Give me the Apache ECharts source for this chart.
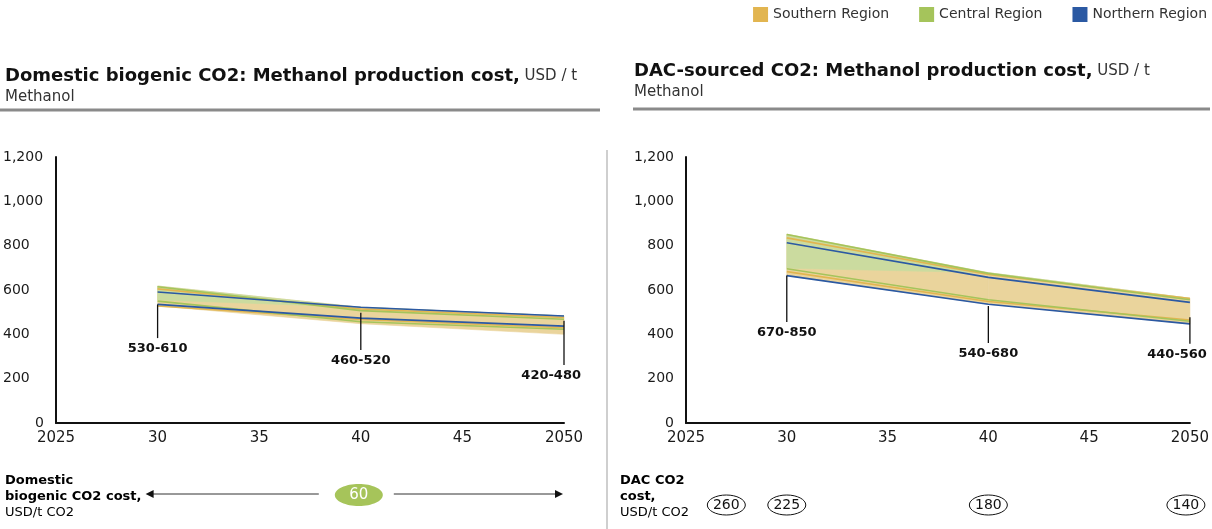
<!DOCTYPE html>
<html><head><meta charset="utf-8">
<script src="https://cdn.jsdelivr.net/npm/echarts@6/dist/echarts.min.js"></script>
<style>html,body{margin:0;padding:0;background:#fff}#c{width:1212px;height:529px}</style>
</head><body><div id="c"></div>
<script>
const FONT = '"DejaVu Sans", sans-serif';
const years = [2030, 2040, 2050];
const regions = ['Southern Region', 'Central Region', 'Northern Region'];

// Domestic biogenic CO2 (left)
const bioSouthHigh = [605, 514, 476];
const bioSouthLow = [528, 467, 430];
const bioCentralHigh = [615, 507, 468];
const bioCentralLow = [550, 457, 423];
const bioNorthHigh = [591, 522, 483];
const bioNorthLow = [535, 473, 437];
const bioEnvHigh = [618, 522, 483];
const bioEnvLow = [528, 448, 400];
const bioGreenLow = [555, 522, 483];
const bioAnnTop = [535, 497, 461];
const bioAnnBottom = [383, 329, 262];
const bioAnnLabels = ['530-610', '460-520', '420-480'];
const bioCost = 60;

// DAC-sourced CO2 (right)
const dacSouthHigh = [835, 670, 562];
const dacSouthLow = [683, 548, 465];
const dacCentralHigh = [850, 675, 556];
const dacCentralLow = [696, 556, 459];
const dacNorthHigh = [813, 657, 544];
const dacNorthLow = [665, 536, 447];
const dacEnvHigh = [852, 678, 563];
const dacEnvLow = [665, 536, 447];
const dacGreenLow = [698, 678, 563];
const dacAnnTop = [665, 528, 477];
const dacAnnBottom = [456, 361, 357];
const dacAnnLabels = ['670-850', '540-680', '440-560'];
const dacCostYears = [2027, 2030, 2040, 2050];
const dacCosts = [260, 225, 180, 140];

const xTickLabels = {2025: '2025', 2030: '30', 2035: '35', 2040: '40', 2045: '45', 2050: '2050'};

const C_S = '#e2b550', C_C = '#a5c45b', C_N = '#2b59a3';
const FILL_O = '#ead49c', FILL_G = '#cbdb9f';

const pairs = (arr) => years.map((y, i) => [y, arr[i]]);

function bandSeries(idx, lo, hi, color, z) {
  const data = [];
  for (let i = 0; i < years.length - 1; i++) data.push([years[i], years[i + 1], lo[i], hi[i], lo[i + 1], hi[i + 1]]);
  return {
    type:'custom', xAxisIndex:idx, yAxisIndex:idx, z:z, silent:true, data:data,
    renderItem: function(params, api) {
      const a = api.coord([api.value(0), api.value(2)]);
      const b = api.coord([api.value(1), api.value(4)]);
      const c = api.coord([api.value(1), api.value(5)]);
      const d = api.coord([api.value(0), api.value(3)]);
      return {type:'polygon', shape:{points:[a, b, c, d]}, style:{fill:color, stroke:color, lineWidth:0.6}};
    }
  };
}
function lineSeries(idx, name, color, arr) {
  return {type:'line', name:name, xAxisIndex:idx, yAxisIndex:idx, data:pairs(arr), symbol:'none', color:color, lineStyle:{width:1.6, color:color}, z:3};
}
function annSeries(idx, tops, bottoms, labels) {
  return {
    type:'custom', xAxisIndex:idx, yAxisIndex:idx, z:5, clip:false,
    data: years.map((y, i) => [y, tops[i], bottoms[i], i]),
    renderItem: function(params, api) {
      const i = api.value(3);
      const p1 = api.coord([api.value(0), api.value(1)]);
      const p2 = api.coord([api.value(0), api.value(2)]);
      const last = i === years.length - 1;
      return {type:'group', children:[
        {type:'line', shape:{x1:p1[0], y1:p1[1], x2:p2[0], y2:p2[1]}, style:{stroke:'#111', lineWidth:1.3}},
        {type:'text', x: last ? p2[0] + 17 : p2[0], y: p2[1] + 11,
          style:{text: labels[i], font:'bold 13px ' + FONT, fill:'#111', align: last ? 'right' : 'center', verticalAlign:'middle'}}
      ]};
    }
  };
}

function xAxis(idx) {
  return {type:'value', gridIndex:idx, min:2025, max:2050, interval:5,
    axisLine:{show:true, onZero:false, lineStyle:{color:'#111', width:2}}, axisTick:{show:false}, splitLine:{show:false},
    axisLabel:{fontFamily:FONT, fontSize:15, color:'#1a1a1a', margin:8, formatter:(v) => xTickLabels[v] || ''}};
}
function yAxis(idx) {
  const left = idx === 0;
  return {type:'value', gridIndex:idx, min:0, max:1200, interval:200,
    axisLine:{show:true, lineStyle:{color:'#111', width:2}}, axisTick:{show:false}, splitLine:{show:false},
    axisLabel:{fontFamily:FONT, fontSize:14, color:'#1a1a1a', margin: left ? 53 : 12, align: left ? 'left' : 'right',
      formatter:(v) => {
        const s = v.toLocaleString('en-US');
        return (left && v === 0) ? '{z|' + s + '}' : s;
      },
      rich:{z:{fontFamily:FONT, fontSize:14, color:'#1a1a1a', padding:[0,0,0,32]}}}};
}

const chart = echarts.init(document.getElementById('c'), null, {renderer:'canvas'});
const series = [
  bandSeries(0, bioEnvLow, bioEnvHigh, FILL_O, 1),
  bandSeries(0, bioGreenLow, bioEnvHigh, FILL_G, 2),
  lineSeries(0, regions[0], C_S, bioSouthHigh), lineSeries(0, regions[0], C_S, bioSouthLow),
  lineSeries(0, regions[1], C_C, bioCentralHigh), lineSeries(0, regions[1], C_C, bioCentralLow),
  lineSeries(0, regions[2], C_N, bioNorthHigh), lineSeries(0, regions[2], C_N, bioNorthLow),
  annSeries(0, bioAnnTop, bioAnnBottom, bioAnnLabels),
  bandSeries(1, dacEnvLow, dacEnvHigh, FILL_O, 1),
  bandSeries(1, dacGreenLow, dacEnvHigh, FILL_G, 2),
  lineSeries(1, regions[0], C_S, dacSouthHigh), lineSeries(1, regions[0], C_S, dacSouthLow),
  lineSeries(1, regions[1], C_C, dacCentralHigh), lineSeries(1, regions[1], C_C, dacCentralLow),
  lineSeries(1, regions[2], C_N, dacNorthHigh), lineSeries(1, regions[2], C_N, dacNorthLow),
  annSeries(1, dacAnnTop, dacAnnBottom, dacAnnLabels)
];

const titleRich = {
  b:{fontFamily:FONT, fontWeight:'bold', fontSize:18, color:'#111', lineHeight:21},
  r:{fontFamily:FONT, fontWeight:'normal', fontSize:15, color:'#333', lineHeight:21}
};
chart.setOption({
  animation:false,
  textStyle:{fontFamily:FONT},
  legend:{right:0, top:2, icon:'rect', itemWidth:15, itemHeight:15, itemGap:30, selectedMode:false,
    textStyle:{fontFamily:FONT, fontSize:14, color:'#333'},
    data: regions.map((r, i) => ({name:r, itemStyle:{color:[C_S, C_C, C_N][i]}}))},
  title:[
    {left:5, top:66, padding:0, text:'{b|Domestic biogenic CO2: Methanol production cost,}{r| USD / t}\n{r|Methanol}',
      textStyle:{fontWeight:'normal', rich:titleRich}},
    {left:634, top:61, padding:0, text:'{b|DAC-sourced CO2: Methanol production cost,}{r| USD / t}\n{r|Methanol}',
      textStyle:{fontWeight:'normal', rich:titleRich}}
  ],
  grid:[{left:56, top:157, width:508, height:266}, {left:686, top:157, width:506, height:266}],
  xAxis:[xAxis(0), xAxis(1)],
  yAxis:[yAxis(0), yAxis(1)],
  series: series
});

const px = (idx, x) => chart.convertToPixel({xAxisIndex:idx}, x);
const g = [];
g.push({type:'line', shape:{x1:0, y1:110, x2:600, y2:110}, style:{stroke:'#8a8a8a', lineWidth:3}});
g.push({type:'line', shape:{x1:633, y1:109, x2:1210, y2:109}, style:{stroke:'#8a8a8a', lineWidth:3}});
g.push({type:'line', shape:{x1:607, y1:150, x2:607, y2:529}, style:{stroke:'#cfcfcf', lineWidth:2}});

const lblRich = {b:{fontFamily:FONT, fontWeight:'bold', fontSize:13, color:'#111', lineHeight:16}, r:{fontFamily:FONT, fontSize:13, color:'#333', lineHeight:17}};
g.push({type:'text', left:5, top:474, style:{text:'{b|Domestic}\n{b|biogenic CO2 cost,}\n{r|USD/t CO2}', rich:lblRich}});
g.push({type:'text', left:620, top:474, style:{text:'{b|DAC CO2}\n{b|cost,}\n{r|USD/t CO2}', rich:lblRich}});

const ay = 494;
const aL = px(0, 2030) - 12, aR = px(0, 2050) - 1, aC = px(0, 2040) - 2;
g.push({type:'line', shape:{x1:aL + 6, y1:ay, x2:aC - 40, y2:ay}, style:{stroke:'#333', lineWidth:1}});
g.push({type:'polygon', shape:{points:[[aL, ay], [aL + 8, ay - 4], [aL + 8, ay + 4]]}, style:{fill:'#111'}});
g.push({type:'line', shape:{x1:aC + 35, y1:ay, x2:aR - 6, y2:ay}, style:{stroke:'#333', lineWidth:1}});
g.push({type:'polygon', shape:{points:[[aR, ay], [aR - 8, ay - 4], [aR - 8, ay + 4]]}, style:{fill:'#111'}});
g.push({type:'ellipse', shape:{cx:aC, cy:ay + 1, rx:24, ry:11}, style:{fill:'#a6c45a'}});
g.push({type:'text', x:aC, y:ay + 1, style:{text:String(bioCost), font:'15px ' + FONT, fill:'#fff', align:'center', verticalAlign:'middle'}});

dacCostYears.forEach((yr, i) => {
  let cx = px(1, yr);
  if (i === dacCostYears.length - 1) cx -= 4;
  g.push({type:'ellipse', shape:{cx:cx, cy:505, rx:19, ry:10}, style:{fill:'none', stroke:'#111', lineWidth:1}});
  g.push({type:'text', x:cx, y:505, style:{text:String(dacCosts[i]), font:'14px ' + FONT, fill:'#111', align:'center', verticalAlign:'middle'}});
});
chart.setOption({graphic:g});
</script></body></html>
